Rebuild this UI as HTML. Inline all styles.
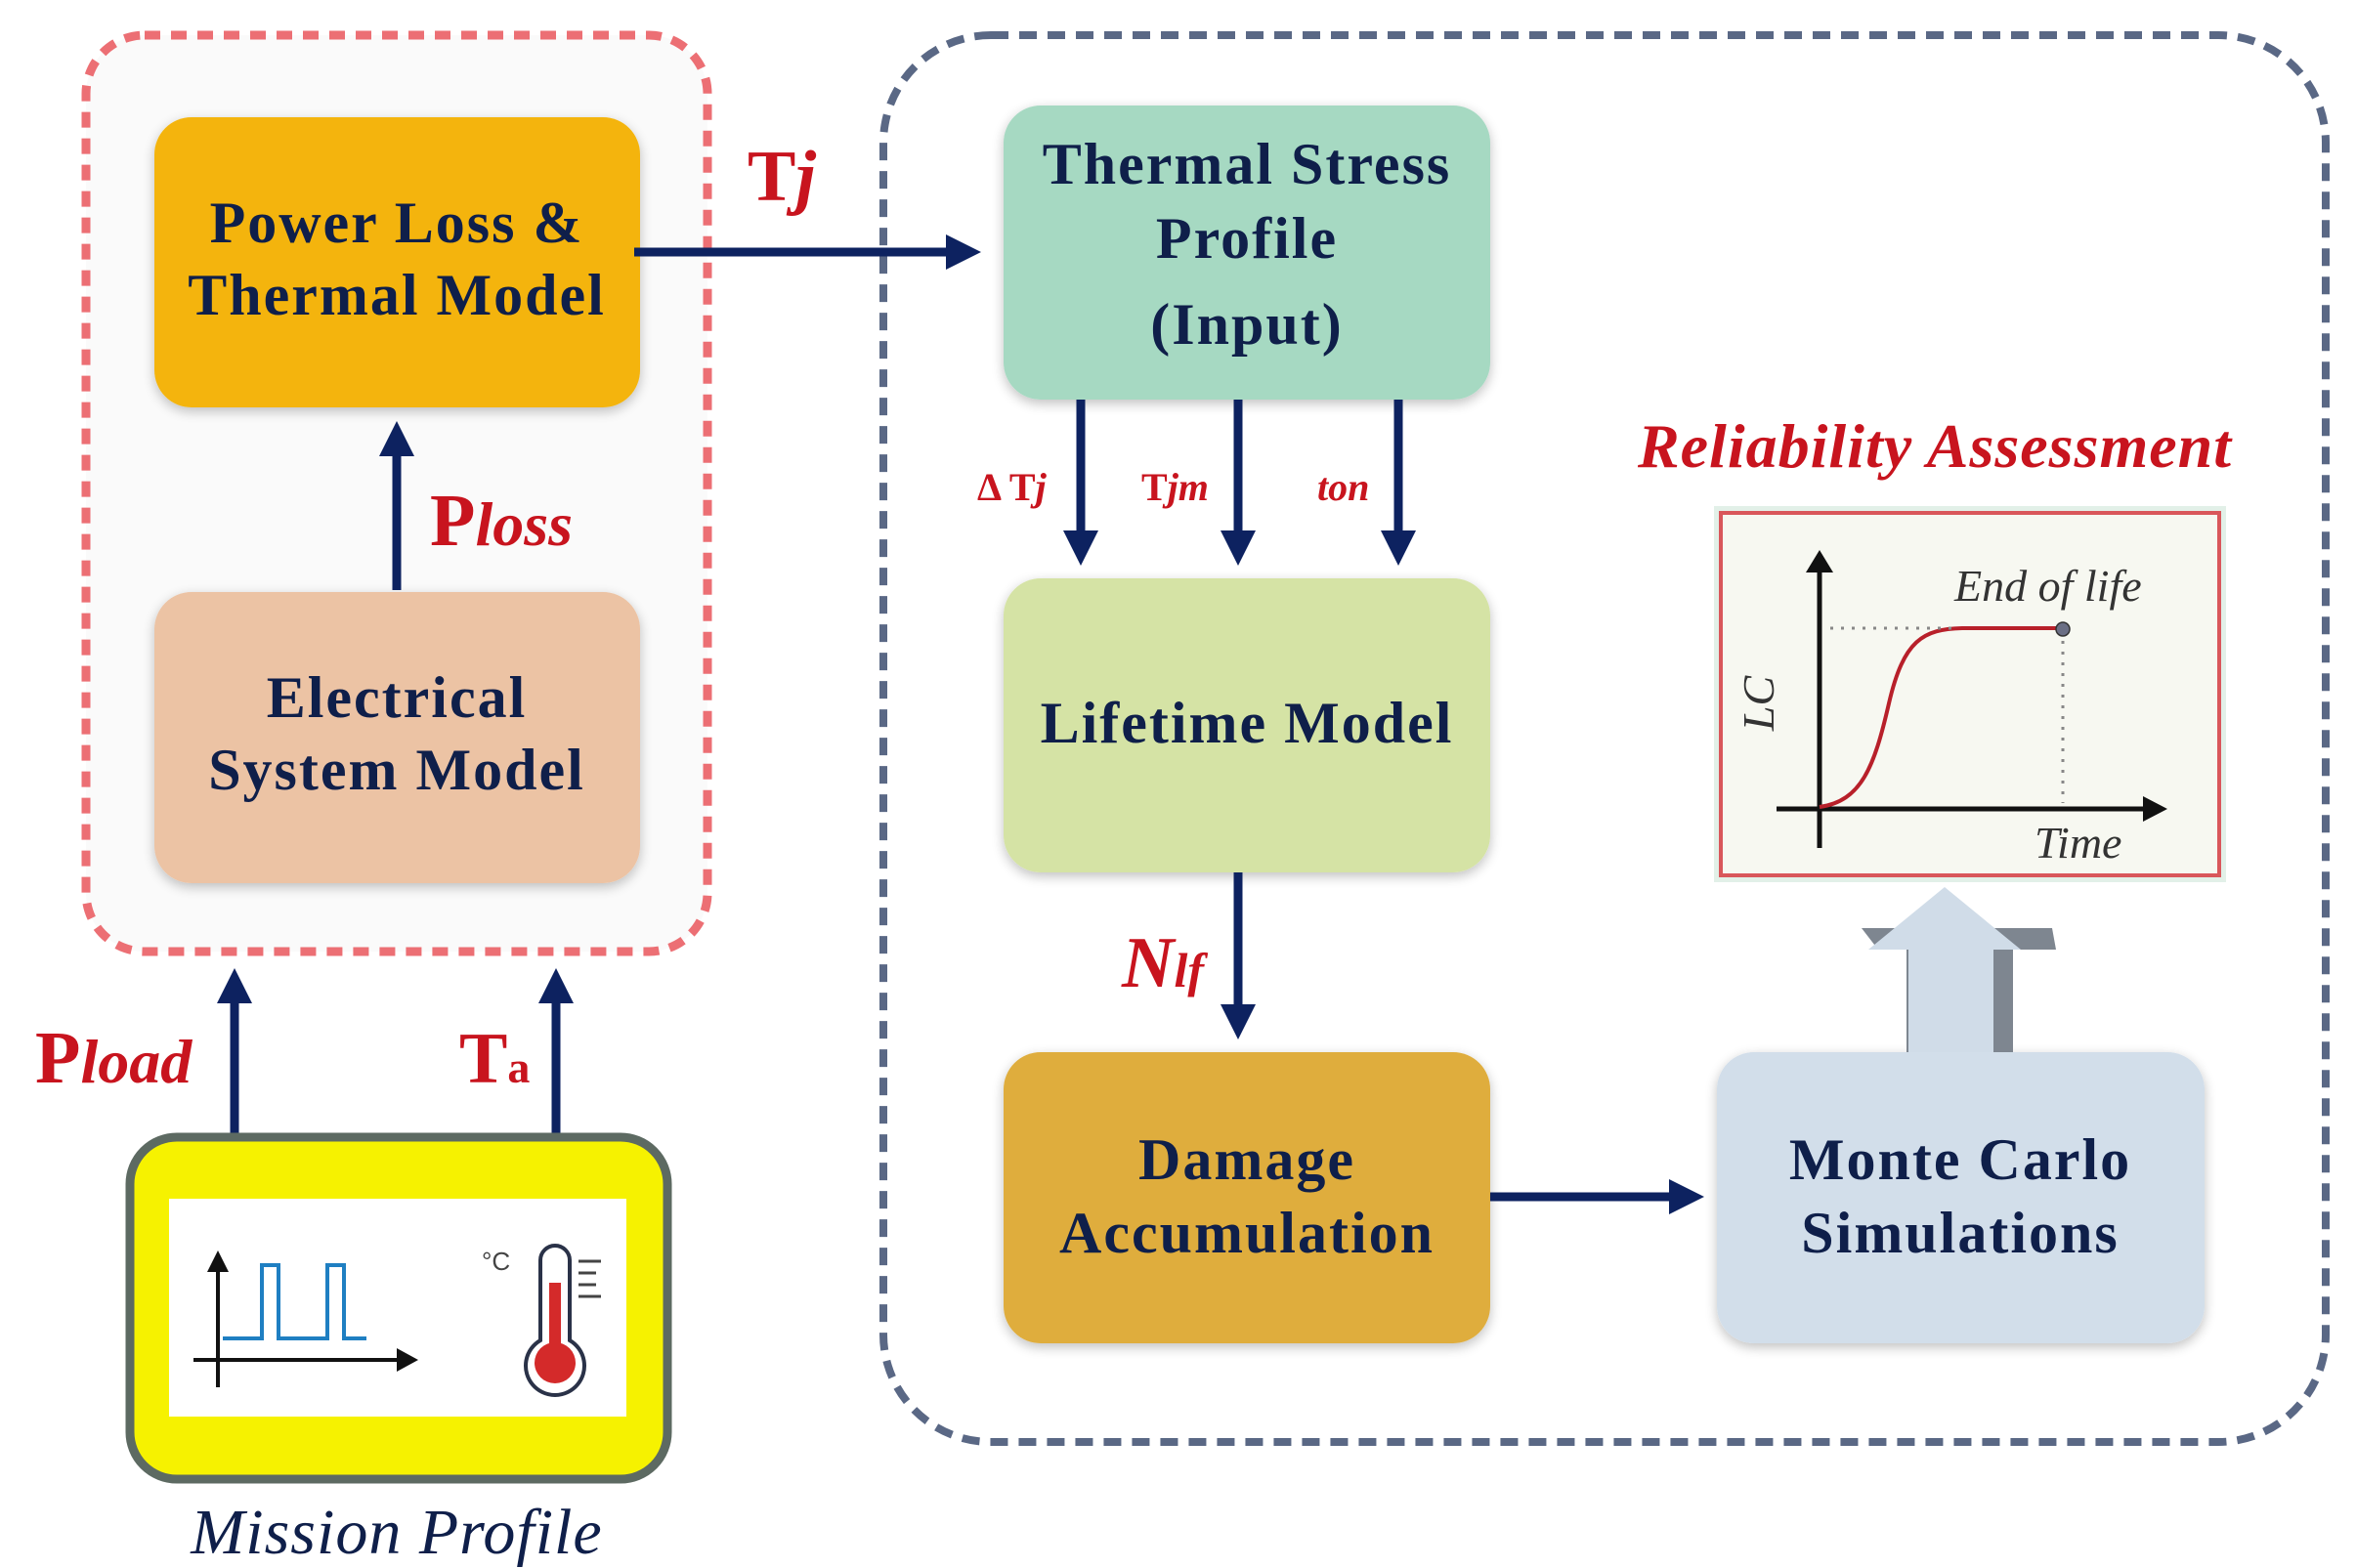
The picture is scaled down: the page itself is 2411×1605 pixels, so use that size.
<!DOCTYPE html>
<html><head><meta charset="utf-8"><style>
html,body{margin:0;padding:0;background:#fff;}
svg{display:block;}
.bx{font-family:"Liberation Serif",serif;font-weight:bold;fill:#0f1f4a;font-size:60px;letter-spacing:2px;}
.lab{font-family:"Liberation Serif",serif;font-weight:bold;fill:#c8141e;}
</style></head><body>
<svg width="2411" height="1605" viewBox="0 0 2411 1605" xmlns="http://www.w3.org/2000/svg">
<defs>
<filter id="sh" x="-10%" y="-10%" width="120%" height="120%"><feGaussianBlur in="SourceAlpha" stdDeviation="6"/><feOffset dx="0" dy="4"/><feComponentTransfer><feFuncA type="linear" slope="0.25"/></feComponentTransfer><feMerge><feMergeNode/><feMergeNode in="SourceGraphic"/></feMerge></filter>
<marker id="ah" markerWidth="4" markerHeight="4" refX="3" refY="2" orient="auto" markerUnits="strokeWidth"><path d="M0,0 L4,2 L0,4 z" fill="#0d2260"/></marker>
</defs>
<rect width="2411" height="1605" fill="#fff"/>
<rect x="88" y="36" width="636" height="938" rx="60" fill="#fafafa" stroke="#ec6f74" stroke-width="9" stroke-dasharray="16 11"/>
<rect x="904" y="36" width="1476" height="1440" rx="110" fill="#fff" stroke="#5a6885" stroke-width="8" stroke-dasharray="18 11"/>
<g filter="url(#sh)">
<rect x="158" y="120" width="497" height="297" rx="38" fill="#f4b40a"/>
<rect x="158" y="606" width="497" height="298" rx="38" fill="#ecc3a4"/>
<rect x="1027" y="108" width="498" height="301" rx="38" fill="#a6d9c2"/>
<rect x="1027" y="592" width="498" height="301" rx="38" fill="#d5e3a5"/>
<rect x="1027" y="1077" width="498" height="298" rx="38" fill="#dfad3e"/>
<rect x="1757" y="1077" width="499" height="298" rx="38" fill="#d2deea"/>
</g>
<text class="bx" text-anchor="middle"><tspan x="406" y="248">Power Loss &amp;</tspan><tspan x="406" y="322">Thermal Model</tspan></text>
<text class="bx" text-anchor="middle"><tspan x="406" y="734">Electrical</tspan><tspan x="406" y="808">System Model</tspan></text>
<text class="bx" text-anchor="middle"><tspan x="1276" y="188">Thermal Stress</tspan><tspan x="1276" y="264">Profile</tspan><tspan x="1276" y="352">(Input)</tspan></text>
<text class="bx" text-anchor="middle" x="1276" y="760">Lifetime Model</text>
<text class="bx" text-anchor="middle"><tspan x="1276" y="1207">Damage</tspan><tspan x="1276" y="1282">Accumulation</tspan></text>
<text class="bx" text-anchor="middle"><tspan x="2006" y="1207">Monte Carlo</tspan><tspan x="2006" y="1282">Simulations</tspan></text>
<g stroke="#0d2260" stroke-width="9" fill="none" marker-end="url(#ah)">
<line x1="406" y1="604" x2="406" y2="440"/>
<line x1="649" y1="258" x2="995" y2="258"/>
<line x1="240" y1="1162" x2="240" y2="1000"/>
<line x1="569" y1="1162" x2="569" y2="1000"/>
<line x1="1106" y1="409" x2="1106" y2="570"/>
<line x1="1267" y1="409" x2="1267" y2="570"/>
<line x1="1431" y1="409" x2="1431" y2="570"/>
<line x1="1267" y1="893" x2="1267" y2="1055"/>
<line x1="1525" y1="1225" x2="1735" y2="1225"/>
</g>
<text class="lab" x="765" y="205" font-size="74">T<tspan font-style="italic">j</tspan></text>
<text class="lab" x="440" y="558" font-size="76">P<tspan font-style="italic" font-size="64">loss</tspan></text>
<text class="lab" x="36" y="1108" font-size="76">P<tspan font-style="italic" font-size="64">load</tspan></text>
<text class="lab" x="470" y="1108" font-size="74">T<tspan font-size="46">a</tspan></text>
<text class="lab" x="1000" y="512" font-size="40">Δ T<tspan font-style="italic">j</tspan></text>
<text class="lab" x="1168" y="512" font-size="40">T<tspan font-style="italic">jm</tspan></text>
<text class="lab" x="1348" y="512" font-size="40" font-style="italic">ton</text>
<text class="lab" x="1148" y="1010" font-size="74" font-style="italic">N<tspan font-size="50">lf</tspan></text>
<text class="lab" x="1980" y="478" font-size="64" font-style="italic" text-anchor="middle" letter-spacing="1">Reliability Assessment</text>
<rect x="1754" y="518" width="524" height="385" fill="#cfe6d8" opacity="0.6"/>
<rect x="1761" y="525" width="510" height="371" fill="#f7f8f1" stroke="#d9575b" stroke-width="4"/>
<g stroke="#111" stroke-width="5" fill="none">
<line x1="1862" y1="868" x2="1862" y2="580"/>
<line x1="1818" y1="828" x2="2198" y2="828"/>
</g>
<path d="M1862,563 L1848,586 L1876,586z" fill="#111"/>
<path d="M2218,828 L2193,815 L2193,841z" fill="#111"/>
<path d="M1862,826 C1905,820 1918,785 1933,720 C1948,655 1968,644 2008,643 L2110,643" stroke="#b8202a" stroke-width="4" fill="none"/>
<line x1="1873" y1="643" x2="1998" y2="643" stroke="#888" stroke-width="3" stroke-dasharray="3 8"/>
<line x1="2111" y1="656" x2="2111" y2="822" stroke="#888" stroke-width="3" stroke-dasharray="3 8"/>
<circle cx="2111" cy="644" r="7" fill="#6b6f85" stroke="#333" stroke-width="1.5"/>
<text x="2000" y="615" font-family="Liberation Serif,serif" font-style="italic" font-size="46" fill="#333">End of life</text>
<text x="2082" y="878" font-family="Liberation Serif,serif" font-style="italic" font-size="46" fill="#333">Time</text>
<text transform="translate(1815,720) rotate(-90)" text-anchor="middle" font-family="Liberation Serif,serif" font-style="italic" font-size="46" fill="#333">LC</text>
<path d="M1905,950 L2100,950 L2104,972 L2060,972 L2060,1077 L1951,1077 L1951,972 L1922,972z" fill="#7e8690"/>
<path d="M1990,908 L2068,972 L2040,972 L2040,1077 L1953,1077 L1953,972 L1912,972z" fill="#d0dce8"/>
<rect x="133" y="1164" width="550" height="350" rx="48" fill="#f6f200" stroke="#5d6a62" stroke-width="9"/>
<rect x="173" y="1227" width="468" height="223" fill="#fff"/>
<g stroke="#111" stroke-width="4" fill="none">
<line x1="223" y1="1420" x2="223" y2="1290"/>
<line x1="198" y1="1392" x2="412" y2="1392"/>
</g>
<path d="M223,1280 L212,1302 L234,1302z" fill="#111"/>
<path d="M428,1392 L406,1380 L406,1404z" fill="#111"/>
<path d="M228,1370 L268,1370 L268,1295 L285,1295 L285,1370 L335,1370 L335,1295 L352,1295 L352,1370 L375,1370" stroke="#1f7fc2" stroke-width="4" fill="none"/>
<text x="493" y="1300" font-family="Liberation Sans,sans-serif" font-size="26" fill="#444">°C</text>
<path d="M553,1290 a15,15 0 0 1 30,0 L583,1372 a30,30 0 1 1 -30,0z" fill="#fff" stroke="#2a3248" stroke-width="4"/>
<rect x="562" y="1313" width="12" height="70" fill="#d42a2a"/>
<circle cx="568" cy="1395" r="21" fill="#d42a2a"/>
<g stroke="#444" stroke-width="3"><line x1="592" y1="1291" x2="615" y2="1291"/><line x1="592" y1="1303" x2="610" y2="1303"/><line x1="592" y1="1315" x2="610" y2="1315"/><line x1="592" y1="1327" x2="615" y2="1327"/></g>
<text x="406" y="1590" text-anchor="middle" font-family="Liberation Serif,serif" font-style="italic" font-size="66" fill="#0f1f4a" letter-spacing="1">Mission Profile</text>
</svg>
</body></html>
